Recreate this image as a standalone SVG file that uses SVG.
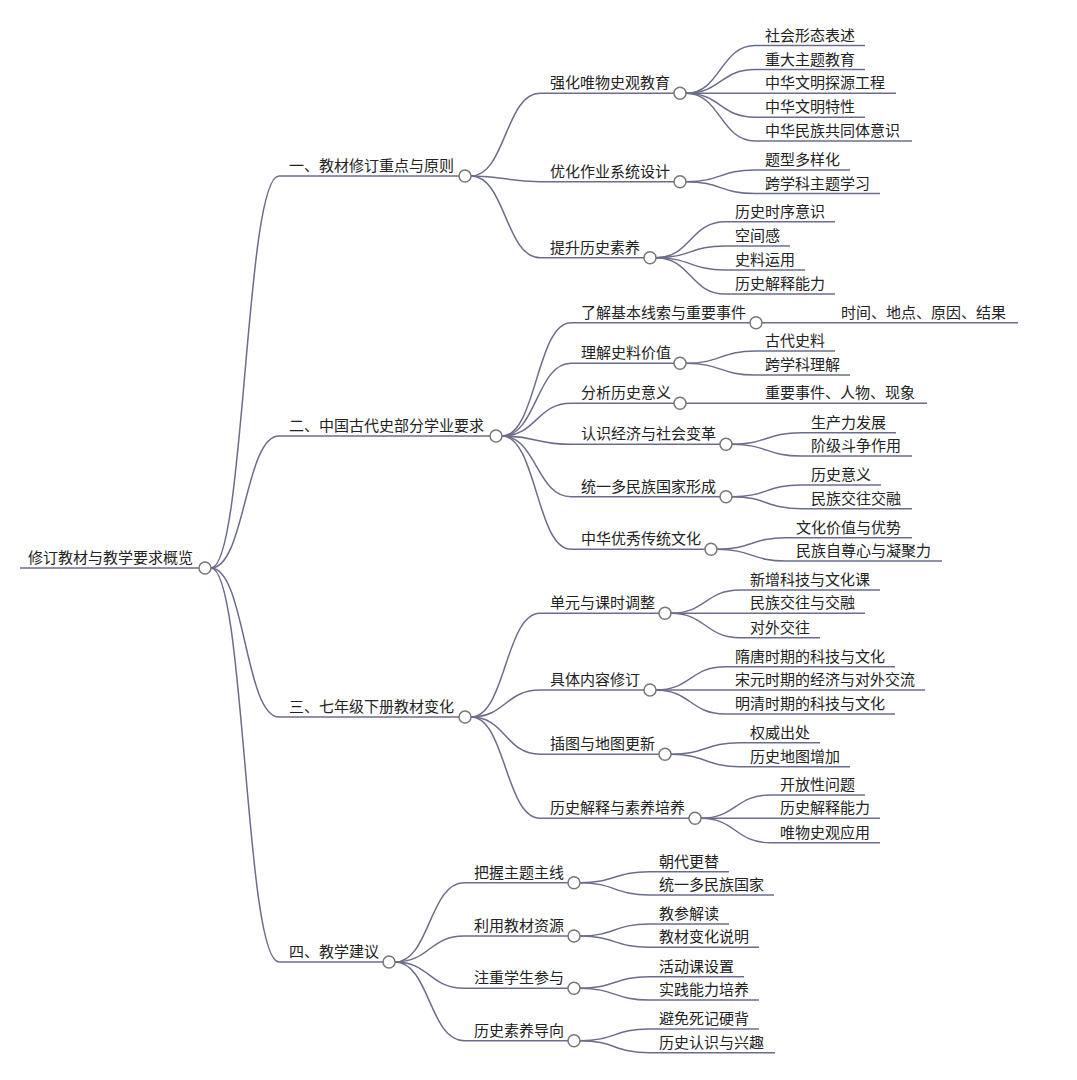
<svg xmlns="http://www.w3.org/2000/svg" width="1077" height="1080" viewBox="0 0 1077 1080">
<style>
.t{font-family:"Noto Sans CJK SC","Noto Sans CJK TC",sans-serif;font-size:15px;fill:#222}
.ln{stroke:#6c6c8c;stroke-width:1.5;fill:none}
.c{fill:#fff;stroke:#777;stroke-width:1.5}
</style>
<rect width="1077" height="1080" fill="#fff"/>
<g id="connectors" class="ln">
<path d="M211,568 C245,568 245,176 279,176"/>
<path d="M211,568 C245,568 245,436 279,436"/>
<path d="M211,568 C245,568 245,717 279,717"/>
<path d="M211,568 C245,568 245,962 279,962"/>
<path d="M471,176 C505.5,176 505.5,93.3 540,93.3"/>
<path d="M471,176 C505.5,176 505.5,181.7 540,181.7"/>
<path d="M471,176 C505.5,176 505.5,257.7 540,257.7"/>
<path d="M686,93.3 C720.5,93.3 720.5,45.5 755,45.5"/>
<path d="M686,93.3 C720.5,93.3 720.5,69.5 755,69.5"/>
<path d="M686,93.3 L755,93.3"/>
<path d="M686,93.3 C720.5,93.3 720.5,117.3 755,117.3"/>
<path d="M686,93.3 C720.5,93.3 720.5,141 755,141"/>
<path d="M686,181.7 C720.5,181.7 720.5,170 755,170"/>
<path d="M686,181.7 C720.5,181.7 720.5,193.5 755,193.5"/>
<path d="M656,257.7 C690.5,257.7 690.5,221.7 725,221.7"/>
<path d="M656,257.7 C690.5,257.7 690.5,246 725,246"/>
<path d="M656,257.7 C690.5,257.7 690.5,270 725,270"/>
<path d="M656,257.7 C690.5,257.7 690.5,294 725,294"/>
<path d="M502,436 C536.5,436 536.5,322.7 571,322.7"/>
<path d="M502,436 C536.5,436 536.5,363.3 571,363.3"/>
<path d="M502,436 C536.5,436 536.5,403.3 571,403.3"/>
<path d="M502,436 C536.5,436 536.5,444.3 571,444.3"/>
<path d="M502,436 C536.5,436 536.5,496.7 571,496.7"/>
<path d="M502,436 C536.5,436 536.5,549.3 571,549.3"/>
<path d="M762,322.7 L831,322.7"/>
<path d="M686,363.3 C720.5,363.3 720.5,351 755,351"/>
<path d="M686,363.3 C720.5,363.3 720.5,375 755,375"/>
<path d="M686,403.3 L755,403.3"/>
<path d="M732,444.3 C766.5,444.3 766.5,432.7 801,432.7"/>
<path d="M732,444.3 C766.5,444.3 766.5,456 801,456"/>
<path d="M732,496.7 C766.5,496.7 766.5,485 801,485"/>
<path d="M732,496.7 C766.5,496.7 766.5,508.7 801,508.7"/>
<path d="M717,549.3 C751.5,549.3 751.5,537.7 786,537.7"/>
<path d="M717,549.3 C751.5,549.3 751.5,561 786,561"/>
<path d="M471,717 C505.5,717 505.5,613.3 540,613.3"/>
<path d="M471,717 C505.5,717 505.5,690 540,690"/>
<path d="M471,717 C505.5,717 505.5,754.3 540,754.3"/>
<path d="M471,717 C505.5,717 505.5,818.3 540,818.3"/>
<path d="M671,613.3 C705.5,613.3 705.5,590 740,590"/>
<path d="M671,613.3 L740,613.3"/>
<path d="M671,613.3 C705.5,613.3 705.5,637.7 740,637.7"/>
<path d="M656,690 C690.5,690 690.5,666.7 725,666.7"/>
<path d="M656,690 L725,690"/>
<path d="M656,690 C690.5,690 690.5,714 725,714"/>
<path d="M671,754.3 C705.5,754.3 705.5,742.7 740,742.7"/>
<path d="M671,754.3 C705.5,754.3 705.5,766.7 740,766.7"/>
<path d="M701,818.3 C735.5,818.3 735.5,795 770,795"/>
<path d="M701,818.3 L770,818.3"/>
<path d="M701,818.3 C735.5,818.3 735.5,842.7 770,842.7"/>
<path d="M395,962 C429.5,962 429.5,882.7 464,882.7"/>
<path d="M395,962 C429.5,962 429.5,936 464,936"/>
<path d="M395,962 C429.5,962 429.5,988.3 464,988.3"/>
<path d="M395,962 C429.5,962 429.5,1040.7 464,1040.7"/>
<path d="M580,882.7 C614.5,882.7 614.5,871.7 649,871.7"/>
<path d="M580,882.7 C614.5,882.7 614.5,895 649,895"/>
<path d="M580,936 C614.5,936 614.5,924 649,924"/>
<path d="M580,936 C614.5,936 614.5,947.3 649,947.3"/>
<path d="M580,988.3 C614.5,988.3 614.5,976.7 649,976.7"/>
<path d="M580,988.3 C614.5,988.3 614.5,1000 649,1000"/>
<path d="M580,1040.7 C614.5,1040.7 614.5,1029 649,1029"/>
<path d="M580,1040.7 C614.5,1040.7 614.5,1052.7 649,1052.7"/>
</g>
<g id="root"><line class="ln" x1="20" y1="568" x2="199" y2="568"/><text class="t" x="28" y="563">修订教材与教学要求概览</text><circle class="c" cx="205" cy="568" r="6"/></g>

<g id="n1"><line class="ln" x1="279" y1="176" x2="459" y2="176"/><text class="t" x="289" y="171">一、教材修订重点与原则</text><circle class="c" cx="465" cy="176" r="6"/></g>
<g id="n1a"><line class="ln" x1="540" y1="93.3" x2="674" y2="93.3"/><text class="t" x="550" y="88.3">强化唯物史观教育</text><circle class="c" cx="680" cy="93.3" r="6"/></g>
<g id="n1a1"><line class="ln" x1="755" y1="45.5" x2="865" y2="45.5"/><text class="t" x="765" y="40.5">社会形态表述</text></g>
<g id="n1a2"><line class="ln" x1="755" y1="69.5" x2="865" y2="69.5"/><text class="t" x="765" y="64.5">重大主题教育</text></g>
<g id="n1a3"><line class="ln" x1="755" y1="93.3" x2="896" y2="93.3"/><text class="t" x="765" y="88.3">中华文明探源工程</text></g>
<g id="n1a4"><line class="ln" x1="755" y1="117.3" x2="865" y2="117.3"/><text class="t" x="765" y="112.3">中华文明特性</text></g>
<g id="n1a5"><line class="ln" x1="755" y1="141" x2="912" y2="141"/><text class="t" x="765" y="136">中华民族共同体意识</text></g>
<g id="n1b"><line class="ln" x1="540" y1="181.7" x2="674" y2="181.7"/><text class="t" x="550" y="176.7">优化作业系统设计</text><circle class="c" cx="680" cy="181.7" r="6"/></g>
<g id="n1b1"><line class="ln" x1="755" y1="170" x2="850" y2="170"/><text class="t" x="765" y="165">题型多样化</text></g>
<g id="n1b2"><line class="ln" x1="755" y1="193.5" x2="880" y2="193.5"/><text class="t" x="765" y="188.5">跨学科主题学习</text></g>
<g id="n1c"><line class="ln" x1="540" y1="257.7" x2="644" y2="257.7"/><text class="t" x="550" y="252.7">提升历史素养</text><circle class="c" cx="650" cy="257.7" r="6"/></g>
<g id="n1c1"><line class="ln" x1="725" y1="221.7" x2="835" y2="221.7"/><text class="t" x="735" y="216.7">历史时序意识</text></g>
<g id="n1c2"><line class="ln" x1="725" y1="246" x2="790" y2="246"/><text class="t" x="735" y="241">空间感</text></g>
<g id="n1c3"><line class="ln" x1="725" y1="270" x2="805" y2="270"/><text class="t" x="735" y="265">史料运用</text></g>
<g id="n1c4"><line class="ln" x1="725" y1="294" x2="835" y2="294"/><text class="t" x="735" y="289">历史解释能力</text></g>

<g id="n2"><line class="ln" x1="279" y1="436" x2="490" y2="436"/><text class="t" x="289" y="431">二、中国古代史部分学业要求</text><circle class="c" cx="496" cy="436" r="6"/></g>
<g id="n2a"><line class="ln" x1="571" y1="322.7" x2="750" y2="322.7"/><text class="t" x="581" y="317.7">了解基本线索与重要事件</text><circle class="c" cx="756" cy="322.7" r="6"/></g>
<g id="n2a1"><line class="ln" x1="831" y1="322.7" x2="1018" y2="322.7"/><text class="t" x="841" y="317.7">时间、地点、原因、结果</text></g>
<g id="n2b"><line class="ln" x1="571" y1="363.3" x2="674" y2="363.3"/><text class="t" x="581" y="358.3">理解史料价值</text><circle class="c" cx="680" cy="363.3" r="6"/></g>
<g id="n2b1"><line class="ln" x1="755" y1="351" x2="835" y2="351"/><text class="t" x="765" y="346">古代史料</text></g>
<g id="n2b2"><line class="ln" x1="755" y1="375" x2="850" y2="375"/><text class="t" x="765" y="370">跨学科理解</text></g>
<g id="n2c"><line class="ln" x1="571" y1="403.3" x2="674" y2="403.3"/><text class="t" x="581" y="398.3">分析历史意义</text><circle class="c" cx="680" cy="403.3" r="6"/></g>
<g id="n2c1"><line class="ln" x1="755" y1="403.3" x2="927" y2="403.3"/><text class="t" x="765" y="398.3">重要事件、人物、现象</text></g>
<g id="n2d"><line class="ln" x1="571" y1="444.3" x2="720" y2="444.3"/><text class="t" x="581" y="439.3">认识经济与社会变革</text><circle class="c" cx="726" cy="444.3" r="6"/></g>
<g id="n2d1"><line class="ln" x1="801" y1="432.7" x2="896" y2="432.7"/><text class="t" x="811" y="427.7">生产力发展</text></g>
<g id="n2d2"><line class="ln" x1="801" y1="456" x2="912" y2="456"/><text class="t" x="811" y="451">阶级斗争作用</text></g>
<g id="n2e"><line class="ln" x1="571" y1="496.7" x2="720" y2="496.7"/><text class="t" x="581" y="491.7">统一多民族国家形成</text><circle class="c" cx="726" cy="496.7" r="6"/></g>
<g id="n2e1"><line class="ln" x1="801" y1="485" x2="881" y2="485"/><text class="t" x="811" y="480">历史意义</text></g>
<g id="n2e2"><line class="ln" x1="801" y1="508.7" x2="912" y2="508.7"/><text class="t" x="811" y="503.7">民族交往交融</text></g>
<g id="n2f"><line class="ln" x1="571" y1="549.3" x2="705" y2="549.3"/><text class="t" x="581" y="544.3">中华优秀传统文化</text><circle class="c" cx="711" cy="549.3" r="6"/></g>
<g id="n2f1"><line class="ln" x1="786" y1="537.7" x2="912" y2="537.7"/><text class="t" x="796" y="532.7">文化价值与优势</text></g>
<g id="n2f2"><line class="ln" x1="786" y1="561" x2="942" y2="561"/><text class="t" x="796" y="556">民族自尊心与凝聚力</text></g>

<g id="n3"><line class="ln" x1="279" y1="717" x2="459" y2="717"/><text class="t" x="289" y="712">三、七年级下册教材变化</text><circle class="c" cx="465" cy="717" r="6"/></g>
<g id="n3a"><line class="ln" x1="540" y1="613.3" x2="659" y2="613.3"/><text class="t" x="550" y="608.3">单元与课时调整</text><circle class="c" cx="665" cy="613.3" r="6"/></g>
<g id="n3a1"><line class="ln" x1="740" y1="590" x2="880" y2="590"/><text class="t" x="750" y="585">新增科技与文化课</text></g>
<g id="n3a2"><line class="ln" x1="740" y1="613.3" x2="865" y2="613.3"/><text class="t" x="750" y="608.3">民族交往与交融</text></g>
<g id="n3a3"><line class="ln" x1="740" y1="637.7" x2="820" y2="637.7"/><text class="t" x="750" y="632.7">对外交往</text></g>
<g id="n3b"><line class="ln" x1="540" y1="690" x2="644" y2="690"/><text class="t" x="550" y="685">具体内容修订</text><circle class="c" cx="650" cy="690" r="6"/></g>
<g id="n3b1"><line class="ln" x1="725" y1="666.7" x2="895" y2="666.7"/><text class="t" x="735" y="661.7">隋唐时期的科技与文化</text></g>
<g id="n3b2"><line class="ln" x1="725" y1="690" x2="925" y2="690"/><text class="t" x="735" y="685">宋元时期的经济与对外交流</text></g>
<g id="n3b3"><line class="ln" x1="725" y1="714" x2="895" y2="714"/><text class="t" x="735" y="709">明清时期的科技与文化</text></g>
<g id="n3c"><line class="ln" x1="540" y1="754.3" x2="659" y2="754.3"/><text class="t" x="550" y="749.3">插图与地图更新</text><circle class="c" cx="665" cy="754.3" r="6"/></g>
<g id="n3c1"><line class="ln" x1="740" y1="742.7" x2="820" y2="742.7"/><text class="t" x="750" y="737.7">权威出处</text></g>
<g id="n3c2"><line class="ln" x1="740" y1="766.7" x2="850" y2="766.7"/><text class="t" x="750" y="761.7">历史地图增加</text></g>
<g id="n3d"><line class="ln" x1="540" y1="818.3" x2="689" y2="818.3"/><text class="t" x="550" y="813.3">历史解释与素养培养</text><circle class="c" cx="695" cy="818.3" r="6"/></g>
<g id="n3d1"><line class="ln" x1="770" y1="795" x2="865" y2="795"/><text class="t" x="780" y="790">开放性问题</text></g>
<g id="n3d2"><line class="ln" x1="770" y1="818.3" x2="880" y2="818.3"/><text class="t" x="780" y="813.3">历史解释能力</text></g>
<g id="n3d3"><line class="ln" x1="770" y1="842.7" x2="880" y2="842.7"/><text class="t" x="780" y="837.7">唯物史观应用</text></g>

<g id="n4"><line class="ln" x1="279" y1="962" x2="383" y2="962"/><text class="t" x="289" y="957">四、教学建议</text><circle class="c" cx="389" cy="962" r="6"/></g>
<g id="n4a"><line class="ln" x1="464" y1="882.7" x2="568" y2="882.7"/><text class="t" x="474" y="877.7">把握主题主线</text><circle class="c" cx="574" cy="882.7" r="6"/></g>
<g id="n4a1"><line class="ln" x1="649" y1="871.7" x2="729" y2="871.7"/><text class="t" x="659" y="866.7">朝代更替</text></g>
<g id="n4a2"><line class="ln" x1="649" y1="895" x2="774" y2="895"/><text class="t" x="659" y="890">统一多民族国家</text></g>
<g id="n4b"><line class="ln" x1="464" y1="936" x2="568" y2="936"/><text class="t" x="474" y="931">利用教材资源</text><circle class="c" cx="574" cy="936" r="6"/></g>
<g id="n4b1"><line class="ln" x1="649" y1="924" x2="729" y2="924"/><text class="t" x="659" y="919">教参解读</text></g>
<g id="n4b2"><line class="ln" x1="649" y1="947.3" x2="759" y2="947.3"/><text class="t" x="659" y="942.3">教材变化说明</text></g>
<g id="n4c"><line class="ln" x1="464" y1="988.3" x2="568" y2="988.3"/><text class="t" x="474" y="983.3">注重学生参与</text><circle class="c" cx="574" cy="988.3" r="6"/></g>
<g id="n4c1"><line class="ln" x1="649" y1="976.7" x2="744" y2="976.7"/><text class="t" x="659" y="971.7">活动课设置</text></g>
<g id="n4c2"><line class="ln" x1="649" y1="1000" x2="759" y2="1000"/><text class="t" x="659" y="995">实践能力培养</text></g>
<g id="n4d"><line class="ln" x1="464" y1="1040.7" x2="568" y2="1040.7"/><text class="t" x="474" y="1035.7">历史素养导向</text><circle class="c" cx="574" cy="1040.7" r="6"/></g>
<g id="n4d1"><line class="ln" x1="649" y1="1029" x2="759" y2="1029"/><text class="t" x="659" y="1024">避免死记硬背</text></g>
<g id="n4d2"><line class="ln" x1="649" y1="1052.7" x2="775" y2="1052.7"/><text class="t" x="659" y="1047.7">历史认识与兴趣</text></g>
</svg>
